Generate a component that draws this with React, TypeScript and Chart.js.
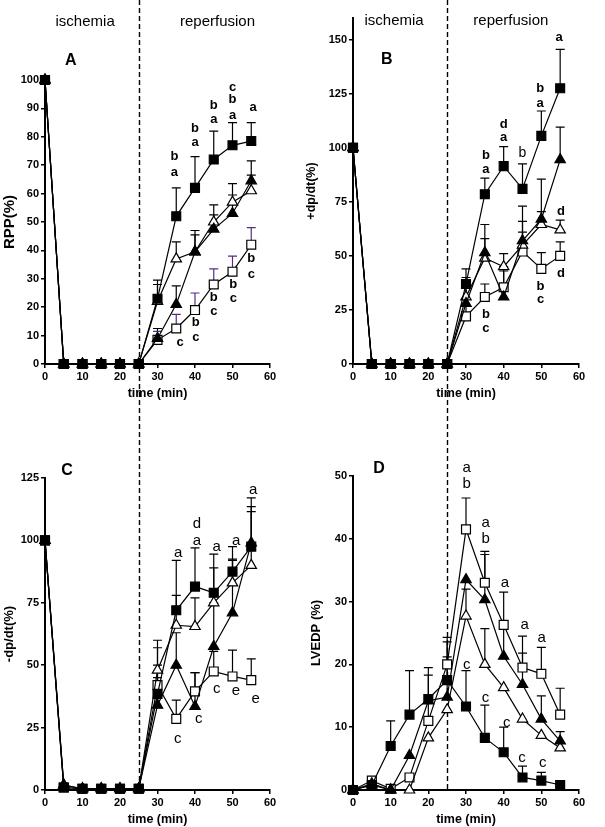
import React, { useEffect, useRef } from 'react';
import { Chart, registerables } from 'chart.js';
Chart.register(...registerables);

const FONT = '"Liberation Sans", Arial, Helvetica, sans-serif';
const times = [0, 5, 10, 15, 20, 25, 30, 35, 40, 45, 50, 55];
const xTicksMax = 60;
const ischemiaEnd = 25;

// ---------- Panel A : RPP (%) ----------
const aSq = [100, 0, 0, 0, 0, 0, 23, 52, 62, 72, 77, 78.5];
const aFtri = [100, 0, 0, 0, 0, 0, 9, 21, 39.5, 47.5, 53, 64.5];
const aOtri = [100, 0, 0, 0, 0, 0, 22, 37, 39.5, 50, 57, 61];
const aOsq = [100, 0, 0, 0, 0, 0, 8.5, 12.5, 19, 28, 32.5, 42];
const aSqErr = [null, null, null, null, null, null, 29.5, 62, 73, 82, 85, 85];
const aFtriErr = [null, null, null, null, null, null, 12.5, 27.5, 47, 52.5, 59.5, 71.5];
const aOtriErr = [null, null, null, null, null, null, 28, 43, 45.5, 56, 63.5, 66.5];
const aOsqErr = [null, null, null, null, null, null, 11.5, 17.5, 25, 33.5, 38, 48];
const aNotes: [number, number, string][] = [
  [34.5, 73, 'b'], [34.5, 67.5, 'a'], [40, 83, 'b'], [40, 78, 'a'], [45, 91, 'b'], [45, 86, 'a'],
  [50, 97.5, 'c'], [50, 93, 'b'], [50, 87.5, 'a'], [55.5, 90.5, 'a'],
  [36, 7.5, 'c'], [40.2, 14.5, 'b'], [40.2, 9.5, 'c'], [45, 23.5, 'b'], [45, 18.5, 'c'],
  [50.2, 28, 'b'], [50.2, 23, 'c'], [55, 37, 'b'], [55, 31.5, 'c'],
];

// ---------- Panel B : +dp/dt (%) ----------
const bSq = [100, 0, 0, 0, 0, 0, 37, 78.5, 91.5, 81, 105.5, 127.5];
const bFtri = [100, 0, 0, 0, 0, 0, 28, 51.5, 31, 57, 67, 94.5];
const bOtri = [100, 0, 0, 0, 0, 0, 31, 49, 45, 55, 64.5, 62];
const bOsq = [100, 0, 0, 0, 0, 0, 22, 31, 35.5, 52, 44, 50];
const bSqErr = [null, null, null, null, null, null, 44, 86, 100.5, 92.5, 117, 145.5];
const bFtriErr = [null, null, null, null, null, null, 35, 64.5, 43, 73, 85.5, 109.5];
const bOtriErr = [null, null, null, null, null, null, 40, 58, 51, 66, 70.5, 66.5];
const bOsqErr = [null, null, null, null, null, null, 27, 37, 45, 61, 51.5, 56.5];
const bNotes: [number, number, string][] = [
  [35.3, 96.5, 'b'], [35.3, 89.8, 'a'], [40, 111, 'd'], [40, 104.6, 'a'],
  [49.7, 127.5, 'b'], [49.7, 120.6, 'a'], [54.7, 151, 'a'],
  [35.3, 23, 'b'], [35.3, 16.5, 'c'], [49.8, 36, 'b'], [49.8, 30, 'c'], [55.2, 70.5, 'd'], [55.2, 42, 'd'],
];
const bNotesPlain: [number, number, string][] = [[45, 97.5, 'b']];

// ---------- Panel C : -dp/dt (%) ----------
const cSq = [100, 1, 0.5, 0.5, 0.5, 0.5, 38.5, 72, 81.5, 79, 87.5, 97.5];
const cFtri = [100, 2, 0.5, 0.5, 0.5, 0.5, 34, 50, 33.5, 57.5, 71, 99];
const cOtri = [100, 2, 0.5, 0.5, 0.5, 0.5, 48, 66, 65.5, 75, 83, 90];
const cOsq = [100, 1, 0.5, 0.5, 0.5, 0.5, 42, 28.5, 39.5, 47.5, 45.5, 44];
const cSqErr = [null, null, null, null, null, null, 45, 92, 97, 94.5, 97.5, 117];
const cFtriErr = [null, null, null, null, null, null, 57, 63, 47, 75, 92, 111.5];
const cOtriErr = [null, null, null, null, null, null, 60, 78, 77, 89, 92.5, 113.5];
const cOsqErr = [null, null, null, null, null, null, 50, 36, 47, 55.5, 56, 52.5];
const cNotes: [number, number, string][] = [
  [35.5, 95.2, 'a'], [40.5, 106.8, 'd'], [40.5, 100, 'a'], [45.8, 97.3, 'a'], [51, 100, 'a'], [55.5, 120.4, 'a'],
  [35.4, 20.4, 'c'], [41, 28.4, 'c'], [45.8, 40.4, 'c'], [50.9, 39.6, 'e'], [56.2, 36.4, 'e'],
];

// ---------- Panel D : LVEDP (%) ----------
const dSq = [0, 0.8, 7, 12, 14.5, 17.5, 13.3, 8.3, 6, 2, 1.5, 0.8];
const dFtri = [0, 0.8, 0, 5.5, 14.2, 14.8, 33.5, 30.3, 21.3, 16.8, 11.3, 7.8];
const dOtri = [0, 1, 0, 0, 8.3, 12.8, 27.7, 20, 16.3, 11.3, 8.7, 6.7];
const dOsq = [0, 1.5, 0.2, 2, 11, 20, 41.5, 33, 26.3, 19.5, 18.5, 12];
const dSqErr = [null, null, 11, 19, 19.5, 24.3, 19, 13.5, 10, 3.8, 2.8, null];
const dFtriErr = [null, null, null, null, null, 21.2, null, 37.5, 26, 21.8, 15, 9.3];
const dOtriErr = [null, null, null, null, null, null, 32, 25.7, null, null, null, null];
const dOsqErr = [null, null, null, null, 18.3, 23.6, 46.5, 38, 31.5, 24.5, 22.7, 16.2];
const dNotes: [number, number, string][] = [
  [30.2, 51.3, 'a'], [30.2, 48.7, 'b'], [35.2, 42.5, 'a'], [35.2, 40, 'b'], [40.3, 33, 'a'],
  [45.6, 26.3, 'a'], [50.1, 24.3, 'a'],
  [30.2, 20, 'c'], [35.2, 14.6, 'c'], [40.8, 10.7, 'c'], [44.9, 5.1, 'c'], [50.4, 4.3, 'c'],
];

type Style = 'sq' | 'osq' | 'ftri' | 'otri';
type Series = { values: number[]; errors: (number | null)[]; style: Style; errColor?: string };
type Label = [number, number, string, string];
type Panel = {
  box: { left: number; top: number; width: number; height: number };
  area: { left: number; right: number; top: number; bottom: number };
  yMax: number;
  yStep: number;
  yTitle: string;
  yTitleSize: number;
  yTitlePad: number;
  xTitlePad: number;
  series: Series[];
  notes: [number, number, string][];
  noteFont: string;
  labels: Label[];
  dashToCanvasBottom: boolean;
};

const noteBold = `bold 13px ${FONT}`;
const noteNormal = `15px ${FONT}`;
const letterFont = `bold 16px ${FONT}`;
const phaseFont = `15px ${FONT}`;

const panels: Panel[] = [
  {
    box: { left: 0, top: 0, width: 302, height: 400 },
    area: { left: 45, right: 270, top: 80, bottom: 364 },
    yMax: 100, yStep: 10, yTitle: 'RPP(%)', yTitleSize: 15, yTitlePad: 2.5, xTitlePad: 0.5,
    series: [
      { values: aSq, errors: aSqErr, style: 'sq' },
      { values: aFtri, errors: aFtriErr, style: 'ftri' },
      { values: aOtri, errors: aOtriErr, style: 'otri' },
      { values: aOsq, errors: aOsqErr, style: 'osq', errColor: '#5b2c86' },
    ],
    notes: aNotes, noteFont: noteBold,
    labels: [[6.9, 107, 'A', letterFont], [10.7, 120.5, 'ischemia', phaseFont], [46, 120.5, 'reperfusion', phaseFont]],
    dashToCanvasBottom: true,
  },
  {
    box: { left: 302, top: 0, width: 303, height: 400 },
    area: { left: 51, right: 277, top: 18, bottom: 364 },
    yMax: 160, yStep: 25, yTitle: '+dp/dt(%)', yTitleSize: 12.5, yTitlePad: 3.5, xTitlePad: 0.5,
    series: [
      { values: bSq, errors: bSqErr, style: 'sq' },
      { values: bFtri, errors: bFtriErr, style: 'ftri' },
      { values: bOtri, errors: bOtriErr, style: 'otri' },
      { values: bOsq, errors: bOsqErr, style: 'osq' },
    ],
    notes: bNotes, noteFont: noteBold,
    labels: [
      [9, 140.7, 'B', letterFont], [10.9, 158.5, 'ischemia', phaseFont], [41.9, 158.5, 'reperfusion', phaseFont],
      ...bNotesPlain.map(([x, y, t]) => [x, y, t, `14px ${FONT}`] as Label),
    ],
    dashToCanvasBottom: true,
  },
  {
    box: { left: 0, top: 400, width: 302, height: 427 },
    area: { left: 45, right: 270, top: 78, bottom: 390 },
    yMax: 125, yStep: 25, yTitle: '-dp/dt(%)', yTitleSize: 13, yTitlePad: 2.5, xTitlePad: 0.75,
    series: [
      { values: cSq, errors: cSqErr, style: 'sq' },
      { values: cFtri, errors: cFtriErr, style: 'ftri' },
      { values: cOtri, errors: cOtriErr, style: 'otri' },
      { values: cOsq, errors: cOsqErr, style: 'osq' },
    ],
    notes: cNotes, noteFont: noteNormal,
    labels: [[5.9, 128, 'C', letterFont]],
    dashToCanvasBottom: false,
  },
  {
    box: { left: 302, top: 400, width: 303, height: 427 },
    area: { left: 51, right: 277, top: 76, bottom: 390 },
    yMax: 50, yStep: 10, yTitle: 'LVEDP (%)', yTitleSize: 13, yTitlePad: 7.5, xTitlePad: 0.75,
    series: [
      { values: dSq, errors: dSqErr, style: 'sq' },
      { values: dFtri, errors: dFtriErr, style: 'ftri' },
      { values: dOtri, errors: dOtriErr, style: 'otri' },
      { values: dOsq, errors: dOsqErr, style: 'osq' },
    ],
    notes: dNotes, noteFont: noteNormal,
    labels: [[6.9, 51.1, 'D', letterFont]],
    dashToCanvasBottom: false,
  },
];

function makeChart(canvas: HTMLCanvasElement, p: Panel) {
  const datasets = p.series.map((s) => {
    const filled = s.style === 'sq' || s.style === 'ftri';
    const tri = s.style === 'ftri' || s.style === 'otri';
    return {
      data: times.map((t, i) => ({ x: t, y: s.values[i] })),
      borderColor: '#000',
      borderWidth: 1.2,
      pointStyle: tri ? 'triangle' : 'rect',
      pointRadius: tri ? 6 : 6.3,
      pointBackgroundColor: filled ? '#000' : '#fff',
      pointBorderColor: '#000',
      pointBorderWidth: 1.2,
      clip: false,
      tension: 0,
      fill: false,
    };
  });

  const extras = {
    id: 'extras',
    beforeDatasetsDraw(chart: any) {
      const ctx = chart.ctx;
      const xs = chart.scales.x;
      const ys = chart.scales.y;
      const dx = Math.round(xs.getPixelForValue(ischemiaEnd)) + 0.5;
      ctx.save();
      ctx.strokeStyle = '#000';
      ctx.lineWidth = 1.4;
      ctx.setLineDash([5, 3]);
      ctx.beginPath();
      ctx.moveTo(dx, 0);
      ctx.lineTo(dx, p.dashToCanvasBottom ? chart.height : chart.chartArea.bottom);
      ctx.stroke();
      ctx.restore();
      ctx.save();
      ctx.lineWidth = 1.2;
      p.series.forEach((s) => {
        ctx.strokeStyle = s.errColor || '#000';
        s.errors.forEach((e, i) => {
          if (e === null || e === undefined) return;
          const x = xs.getPixelForValue(times[i]);
          const y0 = ys.getPixelForValue(s.values[i]);
          const y1 = ys.getPixelForValue(e);
          ctx.beginPath();
          ctx.moveTo(x, y0);
          ctx.lineTo(x, y1);
          ctx.moveTo(x - 4.5, y1);
          ctx.lineTo(x + 4.5, y1);
          ctx.stroke();
        });
      });
      ctx.restore();
    },
    afterDatasetsDraw(chart: any) {
      const ctx = chart.ctx;
      const xs = chart.scales.x;
      const ys = chart.scales.y;
      ctx.save();
      ctx.fillStyle = '#000';
      ctx.textAlign = 'center';
      ctx.textBaseline = 'middle';
      ctx.font = p.noteFont;
      p.notes.forEach(([x, y, t]) => {
        ctx.fillText(t, xs.getPixelForValue(x), ys.getPixelForValue(y));
      });
      p.labels.forEach(([x, y, t, f]) => {
        ctx.font = f;
        ctx.fillText(t, xs.getPixelForValue(x), ys.getPixelForValue(y));
      });
      ctx.restore();
    },
  };

  const tickFont = { family: FONT, size: 11, weight: 'bold' as const };
  const gridCfg = { display: true, drawOnChartArea: false, drawTicks: true, tickLength: 4, color: '#000', lineWidth: 1.5 };
  const borderCfg = { display: true, color: '#000', width: 2 };

  return new Chart(canvas, {
    type: 'line',
    data: { datasets: datasets as any },
    options: {
      animation: false,
      responsive: false,
      devicePixelRatio: 1,
      events: [],
      layout: { padding: { left: 0, top: p.area.top, right: p.box.width - p.area.right, bottom: 0 } },
      plugins: { legend: { display: false }, tooltip: { enabled: false }, title: { display: false } },
      scales: {
        x: {
          type: 'linear',
          min: 0,
          max: xTicksMax,
          ticks: { stepSize: 10, font: tickFont, color: '#000', padding: 2, maxRotation: 0, includeBounds: false },
          grid: gridCfg,
          border: borderCfg,
          title: { display: true, text: 'time (min)', color: '#000', font: { family: FONT, size: 12.5, weight: 'bold', lineHeight: 1 }, padding: { top: 0, bottom: p.xTitlePad } },
          afterFit: (s: any) => { s.height = p.box.height - p.area.bottom; },
        },
        y: {
          type: 'linear',
          min: 0,
          max: p.yMax,
          ticks: { stepSize: p.yStep, font: tickFont, color: '#000', padding: 2, includeBounds: false },
          grid: gridCfg,
          border: borderCfg,
          title: { display: true, text: p.yTitle, color: '#000', font: { family: FONT, size: p.yTitleSize, weight: 'bold', lineHeight: 1 }, padding: { top: p.yTitlePad, bottom: 0 } },
          afterFit: (s: any) => { s.width = p.area.left; },
        },
      },
    } as any,
    plugins: [extras],
  });
}

function PanelChart({ p }: { p: Panel }) {
  const ref = useRef<HTMLCanvasElement>(null);
  useEffect(() => {
    if (!ref.current) return;
    const chart = makeChart(ref.current, p);
    return () => chart.destroy();
  }, [p]);
  return (
    <canvas
      ref={ref}
      width={p.box.width}
      height={p.box.height}
      style={{ position: 'absolute', left: p.box.left, top: p.box.top, width: p.box.width, height: p.box.height }}
    />
  );
}

export default function App() {
  return (
    <div style={{ position: 'absolute', left: 0, top: 0, width: 605, height: 827, background: '#fff' }}>
      {panels.map((p, i) => (
        <PanelChart key={i} p={p} />
      ))}
    </div>
  );
}
